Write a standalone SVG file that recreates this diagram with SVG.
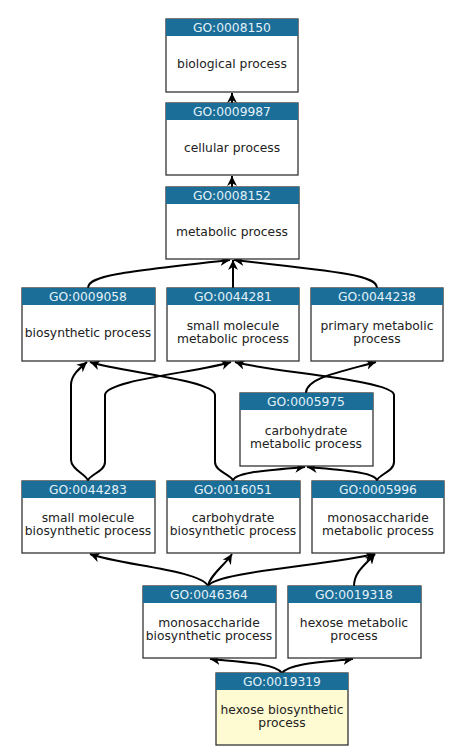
<svg xmlns="http://www.w3.org/2000/svg" width="474" height="754" viewBox="0 0 474 754">
<style>
.box{fill:#ffffff;stroke:#333333;stroke-width:1.3}
.leaf{fill:#fefbd2;stroke:#333333;stroke-width:1.3}
.hdr{fill:#1a6e98}
.id{font-family:"DejaVu Sans",sans-serif;font-size:12.3px;fill:#e6f2f8;text-anchor:middle}
.lbl{font-family:"DejaVu Sans",sans-serif;font-size:12.3px;fill:#222222;text-anchor:middle}
.e{fill:none;stroke:#000000;stroke-width:2}
</style>
<defs>
<marker id="arr" markerUnits="userSpaceOnUse" markerWidth="12" markerHeight="10" refX="10" refY="5" orient="auto">
<path d="M0,0 L10,5 L0,10 L3,5 z" fill="#000000"/>
</marker>
</defs>
<rect width="474" height="754" fill="#ffffff"/>
<g id="connectors">
<path class="e" marker-end="url(#arr)" d="M232,103 L232,93"/>
<path class="e" marker-end="url(#arr)" d="M232,187 L232,176"/>
<path class="e" marker-end="url(#arr)" d="M88,288 C88,276 120,272 230,260"/>
<path class="e" marker-end="url(#arr)" d="M233,288 L233,260"/>
<path class="e" marker-end="url(#arr)" d="M377,288 C377,276 345,272 234,260"/>
<path class="e" marker-end="url(#arr)" d="M88,481 C88,475 71,470 71,460 L71,385 C71,375 80,368 87,362"/>
<path class="e" marker-end="url(#arr)" d="M88,481 C88,475 105,472 105,462 L105,395 C105,380 200,372 231,362"/>
<path class="e" marker-end="url(#arr)" d="M233,481 C233,475 215,472 215,462 L215,395 C215,380 120,372 90,362"/>
<path class="e" marker-end="url(#arr)" d="M233,481 C233,472 270,470 305,467"/>
<path class="e" marker-end="url(#arr)" d="M377,481 C377,472 340,470 307,467"/>
<path class="e" marker-end="url(#arr)" d="M377,481 C377,475 394,472 394,462 L394,395 C394,380 270,372 235,362"/>
<path class="e" marker-end="url(#arr)" d="M306,393 C306,378 340,372 376,362"/>
<path class="e" marker-end="url(#arr)" d="M208,586 C200,570 120,565 90,554"/>
<path class="e" marker-end="url(#arr)" d="M208,586 C210,575 225,565 232,554"/>
<path class="e" marker-end="url(#arr)" d="M208,586 C215,572 330,565 375,554"/>
<path class="e" marker-end="url(#arr)" d="M354,586 C354,572 365,565 375,554"/>
<path class="e" marker-end="url(#arr)" d="M282,673 C275,663 240,662 210,659"/>
<path class="e" marker-end="url(#arr)" d="M282,673 C290,663 325,662 353,659"/>
</g>
<g id="GO0008150"><rect class="box" x="166" y="19" width="132" height="73"/><rect class="hdr" x="166" y="19" width="132" height="17"/><text class="id" x="232" y="32">GO:0008150</text><text class="lbl" x="232" y="68">biological process</text></g>
<g id="GO0009987"><rect class="box" x="166" y="103" width="132" height="72"/><rect class="hdr" x="166" y="103" width="132" height="17"/><text class="id" x="232" y="116">GO:0009987</text><text class="lbl" x="232" y="152">cellular process</text></g>
<g id="GO0008152"><rect class="box" x="166" y="187" width="133" height="72"/><rect class="hdr" x="166" y="187" width="133" height="17"/><text class="id" x="232" y="200">GO:0008152</text><text class="lbl" x="232" y="236">metabolic process</text></g>
<g id="GO0009058"><rect class="box" x="22" y="288" width="133" height="73"/><rect class="hdr" x="22" y="288" width="133" height="17"/><text class="id" x="88" y="301">GO:0009058</text><text class="lbl" x="88" y="337">biosynthetic process</text></g>
<g id="GO0044281"><rect class="box" x="167" y="288" width="132" height="73"/><rect class="hdr" x="167" y="288" width="132" height="17"/><text class="id" x="233" y="301">GO:0044281</text><text class="lbl" x="233" y="330">small molecule</text><text class="lbl" x="233" y="343">metabolic process</text></g>
<g id="GO0044238"><rect class="box" x="311" y="288" width="132" height="73"/><rect class="hdr" x="311" y="288" width="132" height="17"/><text class="id" x="377" y="301">GO:0044238</text><text class="lbl" x="377" y="330">primary metabolic</text><text class="lbl" x="377" y="343">process</text></g>
<g id="GO0005975"><rect class="box" x="240" y="393" width="133" height="73"/><rect class="hdr" x="240" y="393" width="133" height="17"/><text class="id" x="306" y="406">GO:0005975</text><text class="lbl" x="306" y="435">carbohydrate</text><text class="lbl" x="306" y="448">metabolic process</text></g>
<g id="GO0044283"><rect class="box" x="22" y="481" width="133" height="72"/><rect class="hdr" x="22" y="481" width="133" height="17"/><text class="id" x="88" y="494">GO:0044283</text><text class="lbl" x="88" y="522">small molecule</text><text class="lbl" x="88" y="535">biosynthetic process</text></g>
<g id="GO0016051"><rect class="box" x="167" y="481" width="133" height="72"/><rect class="hdr" x="167" y="481" width="133" height="17"/><text class="id" x="233" y="494">GO:0016051</text><text class="lbl" x="233" y="522">carbohydrate</text><text class="lbl" x="233" y="535">biosynthetic process</text></g>
<g id="GO0005996"><rect class="box" x="312" y="481" width="132" height="72"/><rect class="hdr" x="312" y="481" width="132" height="17"/><text class="id" x="378" y="494">GO:0005996</text><text class="lbl" x="378" y="522">monosaccharide</text><text class="lbl" x="378" y="535">metabolic process</text></g>
<g id="GO0046364"><rect class="box" x="143" y="586" width="133" height="72"/><rect class="hdr" x="143" y="586" width="133" height="17"/><text class="id" x="209" y="599">GO:0046364</text><text class="lbl" x="209" y="627">monosaccharide</text><text class="lbl" x="209" y="640">biosynthetic process</text></g>
<g id="GO0019318"><rect class="box" x="288" y="586" width="133" height="72"/><rect class="hdr" x="288" y="586" width="133" height="17"/><text class="id" x="354" y="599">GO:0019318</text><text class="lbl" x="354" y="627">hexose metabolic</text><text class="lbl" x="354" y="640">process</text></g>
<g id="GO0019319"><rect class="leaf" x="216" y="673" width="132" height="72"/><rect class="hdr" x="216" y="673" width="132" height="17"/><text class="id" x="282" y="686">GO:0019319</text><text class="lbl" x="282" y="714">hexose biosynthetic</text><text class="lbl" x="282" y="727">process</text></g>
</svg>
